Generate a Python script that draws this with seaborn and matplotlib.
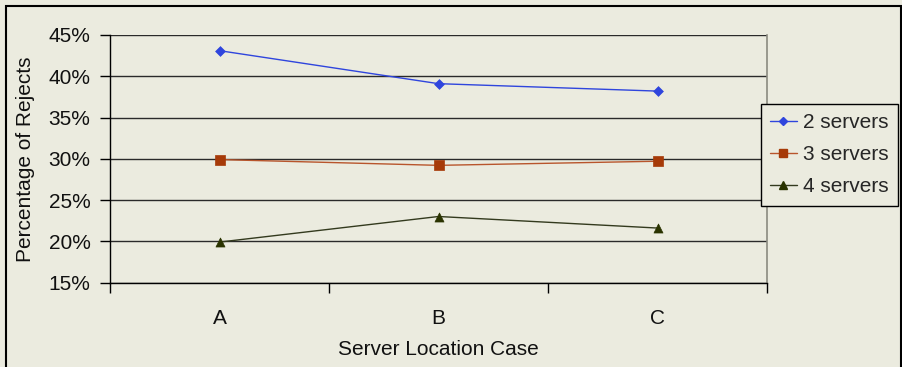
import matplotlib
matplotlib.use("Agg")
import matplotlib.pyplot as plt
from matplotlib.patches import Rectangle
from matplotlib.lines import Line2D
from matplotlib.ticker import FuncFormatter
import seaborn as sns
import pandas as pd

# Reject percentages per server location case
cases = ["A", "B", "C"]
two_servers = [43.1, 39.1, 38.2]
three_servers = [29.9, 29.2, 29.7]
four_servers = [19.9, 23.0, 21.6]
series_names = ["2 servers", "3 servers", "4 servers"]
y_ticks = [15, 20, 25, 30, 35, 40, 45]

df = pd.DataFrame({
    "case": cases * 3,
    "rejects": two_servers + three_servers + four_servers,
    "series": [s for s in series_names for _ in cases],
})

bg = "#EBEBDF"
line_colors = {"2 servers": "#2F45DD", "3 servers": "#B8552C", "4 servers": "#333A1E"}
marker_colors = {"2 servers": "#2F45DD", "3 servers": "#A63A08", "4 servers": "#2A3300"}
marker_shapes = {"2 servers": "D", "3 servers": "s", "4 servers": "^"}
marker_sizes = {"2 servers": 5, "3 servers": 6.5, "4 servers": 6.5}
fs = 15

sns.set_theme(style="white")
plt.rcParams["font.family"] = ["Liberation Sans", "DejaVu Sans"]

fig = plt.figure(figsize=(9.02, 3.67), dpi=100, facecolor=bg)
ax = fig.add_axes([110 / 902, 1 - 282.5 / 367, (767 - 110) / 902, (282.5 - 35) / 367])
ax.set_facecolor(bg)

sns.lineplot(data=df, x="case", y="rejects", hue="series", palette=line_colors,
             linewidth=1.0, legend=False, ax=ax, sort=False)

# markers drawn per series on top of the lines
for name in series_names:
    sub = df[df["series"] == name]
    sns.scatterplot(data=sub, x="case", y="rejects", marker=marker_shapes[name],
                    color=marker_colors[name], s=marker_sizes[name] ** 2,
                    edgecolor=marker_colors[name], linewidth=0.5, ax=ax,
                    legend=False, zorder=4)

ax.set_xlim(-0.5, 2.5)
ax.set_ylim(15, 45)
ax.set_yticks(y_ticks)
ax.yaxis.set_major_formatter(FuncFormatter(lambda v, _: f"{v:.0f}%"))
ax.set_xticks(range(len(cases)))
ax.set_xticklabels(cases)
ax.set_xticks([-0.5, 0.5, 1.5, 2.5], minor=True)

ax.grid(axis="y", color="#2a2a2a", linewidth=1.0)
ax.grid(axis="x", visible=False)
ax.set_axisbelow(True)

ax.tick_params(axis="x", which="major", length=0, pad=19, labelsize=fs, colors="#111111")
ax.tick_params(axis="x", which="minor", length=7, width=1, color="black", direction="out")
ax.tick_params(axis="y", which="major", length=7, width=1, color="black", direction="out",
               pad=7, labelsize=fs, labelcolor="#111111")
ax.tick_params(bottom=True, left=True)
ax.xaxis.set_tick_params(which="minor", bottom=True)

for side in ["left", "bottom"]:
    ax.spines[side].set_color("black")
    ax.spines[side].set_linewidth(1.0)
ax.spines["top"].set_visible(False)
ax.spines["right"].set_color("#8a8a80")
ax.spines["right"].set_linewidth(1.2)

ax.set_xlabel("Server Location Case", fontsize=fs, color="#111111", labelpad=9)
ax.set_ylabel("Percentage of Rejects", fontsize=fs, color="#111111", labelpad=10)

handles = [
    Line2D([0], [0], color=line_colors[n], lw=1.0, marker=marker_shapes[n],
           markerfacecolor=marker_colors[n], markeredgecolor=marker_colors[n],
           markersize=marker_sizes[n] - 0.5)
    for n in series_names
]
leg = fig.legend(handles, series_names, loc="upper left",
                 bbox_to_anchor=(760.5 / 902, 1 - 104 / 367), fontsize=fs,
                 frameon=True, fancybox=False, edgecolor="black", facecolor=bg,
                 framealpha=1, handlelength=1.3, handletextpad=0.3,
                 labelspacing=0.62, borderpad=0.45, borderaxespad=0)
leg.get_frame().set_linewidth(1.0)

# outer chart frame
fig.patches.append(Rectangle((6 / 902, -0.05), (900.5 - 6) / 902, 1.05 - 6 / 367,
                             transform=fig.transFigure, fill=False,
                             edgecolor="black", linewidth=1.5))

fig.savefig("out.png", dpi=100, facecolor=bg)
